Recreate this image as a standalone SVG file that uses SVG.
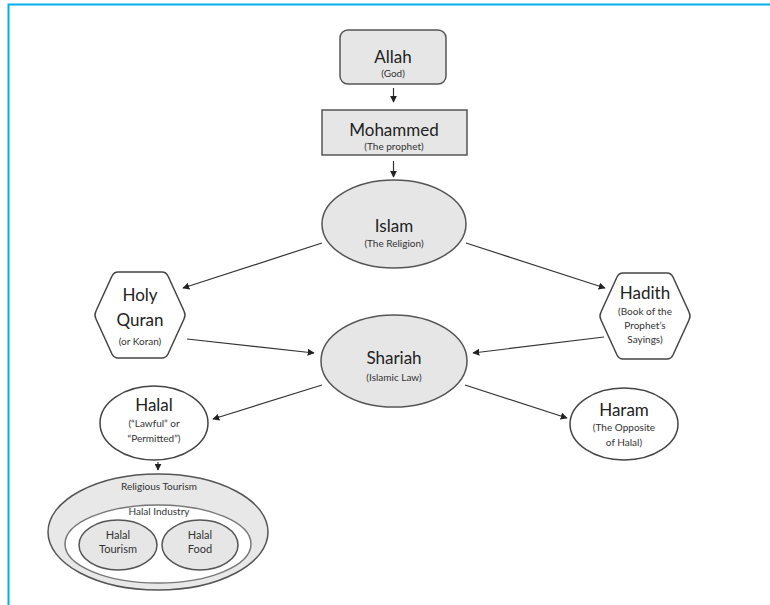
<svg xmlns="http://www.w3.org/2000/svg" width="770" height="605" viewBox="0 0 770 605">
  <style>
    .node { fill: #e6e6e6; stroke: #555; stroke-width: 1.5; }
    .plain { fill: #fff; stroke: #444; stroke-width: 1.5; }
    .title { font-family: Lato, "Open Sans", sans-serif; font-size: 17px; fill: #222; text-anchor: middle; }
    .sub { font-family: Lato, "Open Sans", sans-serif; font-size: 10px; fill: #333; text-anchor: middle; }
    .mid { font-family: Lato, "Open Sans", sans-serif; font-size: 11px; fill: #333; text-anchor: middle; }
    .edge { stroke: #333; stroke-width: 1.2; fill: none; marker-end: url(#arrow); }
  </style>
  <defs>
    <marker id="arrow" viewBox="0 0 10 10" refX="9" refY="5" markerWidth="7" markerHeight="7" markerUnits="userSpaceOnUse" orient="auto">
      <path d="M0,0 L10,5 L0,10 z" fill="#222"/>
    </marker>
  </defs>

  <rect width="770" height="605" fill="#fff"/>
  <!-- frame -->
  <path d="M8.5,605 V4.5 H770" fill="none" stroke="#00b0f0" stroke-width="2"/>

  <g id="allah">
    <rect class="node" x="340" y="30" width="106" height="54" rx="8"/>
    <text class="title" x="393" y="63">Allah</text>
    <text class="sub" x="393" y="77">(God)</text>
  </g>

  <g id="mohammed">
    <rect class="node" x="322" y="110" width="145" height="45"/>
    <text class="title" x="394" y="136">Mohammed</text>
    <text class="sub" x="394" y="150">(The prophet)</text>
  </g>

  <g id="islam">
    <ellipse class="node" cx="394" cy="224" rx="72" ry="44"/>
    <text class="title" x="394" y="232">Islam</text>
    <text class="sub" x="394" y="247">(The Religion)</text>
  </g>

  <g id="quran">
    <path class="plain" d="M118,272 H162 Q166,272 168,276 L184,311 Q186,315 184,319 L168,354 Q166,358 162,358 H118 Q114,358 112,354 L96,319 Q94,315 96,311 L112,276 Q114,272 118,272 Z"/>
    <text class="title" x="140" y="301">Holy</text>
    <text class="title" x="140" y="326">Quran</text>
    <text class="sub" x="140" y="345">(or Koran)</text>
  </g>

  <g id="hadith">
    <path class="plain" d="M623,273 H667 Q671,273 673,277 L689,312 Q691,316 689,320 L673,355 Q671,359 667,359 H623 Q619,359 617,355 L601,320 Q599,316 601,312 L617,277 Q619,273 623,273 Z"/>
    <text class="title" x="645" y="299">Hadith</text>
    <text class="sub" x="645" y="315">(Book of the</text>
    <text class="sub" x="645" y="329">Prophet’s</text>
    <text class="sub" x="645" y="343">Sayings)</text>
  </g>

  <g id="shariah">
    <ellipse class="node" cx="394" cy="361" rx="73" ry="46"/>
    <text class="title" x="394" y="364">Shariah</text>
    <text class="sub" x="394" y="381">(Islamic Law)</text>
  </g>

  <g id="halal">
    <ellipse class="plain" cx="154" cy="423" rx="54" ry="37"/>
    <text class="title" x="154" y="411">Halal</text>
    <text class="sub" x="154" y="427">(“Lawful” or</text>
    <text class="sub" x="154" y="442">“Permitted”)</text>
  </g>

  <g id="haram">
    <ellipse class="plain" cx="624" cy="424" rx="54" ry="36"/>
    <text class="title" x="624" y="416">Haram</text>
    <text class="sub" x="624" y="431">(The Opposite</text>
    <text class="sub" x="624" y="446">of Halal)</text>
  </g>

  <g id="religious-tourism">
    <ellipse cx="158" cy="532" rx="110" ry="58" fill="#e8e8e8" stroke="#555" stroke-width="1.5"/>
    <text class="sub" x="159" y="490">Religious Tourism</text>
  </g>

  <g id="halal-industry">
    <ellipse cx="158" cy="544" rx="93" ry="39" fill="#fff" stroke="#777" stroke-width="1.5"/>
    <text class="sub" x="159" y="515">Halal Industry</text>
  </g>

  <g id="halal-tourism">
    <ellipse class="node" cx="118" cy="545" rx="39" ry="25"/>
    <text class="mid" x="118" y="539">Halal</text>
    <text class="mid" x="118" y="553">Tourism</text>
  </g>

  <g id="halal-food">
    <ellipse class="node" cx="200" cy="545" rx="38" ry="25"/>
    <text class="mid" x="200" y="539">Halal</text>
    <text class="mid" x="200" y="553">Food</text>
  </g>

  <g id="connectors">
    <line class="edge" x1="393.5" y1="88" x2="393.5" y2="102"/>
    <line class="edge" x1="393.5" y1="161" x2="393.5" y2="177"/>
    <line class="edge" x1="322" y1="243" x2="183" y2="288"/>
    <line class="edge" x1="466" y1="243" x2="605" y2="288"/>
    <line class="edge" x1="187" y1="339" x2="314" y2="353"/>
    <line class="edge" x1="604" y1="337" x2="473" y2="353"/>
    <line class="edge" x1="322" y1="385" x2="213" y2="419"/>
    <line class="edge" x1="465" y1="385" x2="567" y2="418"/>
    <line class="edge" x1="158" y1="462" x2="158" y2="470"/>
  </g>
</svg>
